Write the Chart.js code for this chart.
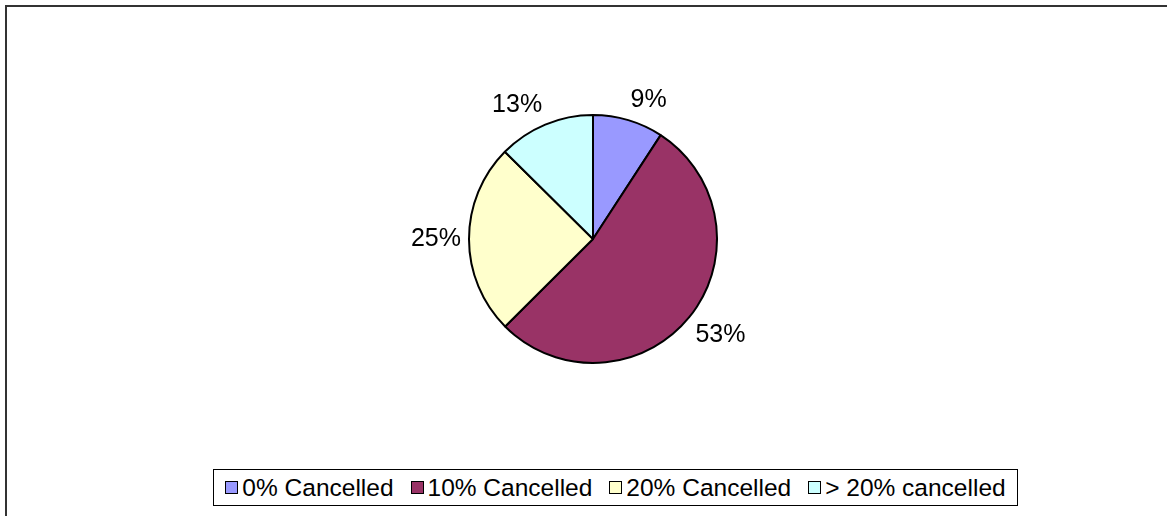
<!DOCTYPE html>
<html>
<head>
<meta charset="utf-8">
<script src="https://cdn.jsdelivr.net/npm/chart.js@4/dist/chart.umd.min.js"></script>
<style>
  body { margin: 0; background: #fff; overflow: hidden; }
  #wrap { position: relative; width: 1167px; height: 516px; }
  #frame {
    position: absolute; left: 5px; top: 5px; width: 1170px; height: 520px;
    border: 2px solid #333; box-sizing: border-box;
  }
  #pie { position: absolute; left: 0; top: 0; }
  #legend {
    position: absolute; left: 213px; top: 469px; width: 805px; height: 37px;
    border: 1px solid #000; box-sizing: border-box; background: #fff;
    display: flex; align-items: center; justify-content: center;
    font-family: "Liberation Sans", Arial, sans-serif; font-size: 24.5px; color: #000;
  }
  .item { display: flex; align-items: center; margin: 0 8.5px; white-space: nowrap; }
  .swatch { width: 11px; height: 11px; border: 1.5px solid #000; margin-right: 4px; }
</style>
</head>
<body>
<div id="wrap">
  <div id="frame"></div>
  <canvas id="pie" width="1167" height="516"></canvas>
  <div id="legend"></div>
</div>
<script>
const categories = ["0% Cancelled", "10% Cancelled", "20% Cancelled", "> 20% cancelled"];
const values = [9.2, 53.4, 24.9, 12.6];
const colors = ["#9999FF", "#993366", "#FFFFCC", "#CCFFFF"];

const total = values.reduce((a, b) => a + b, 0);

// outside percentage labels, anchored on the slice's middle angle
const pctLabels = {
  id: "pctLabels",
  afterDatasetsDraw(chart) {
    const ctx = chart.ctx;
    const meta = chart.getDatasetMeta(0);
    ctx.save();
    ctx.font = '25px "Liberation Sans", Arial, sans-serif';
    ctx.fillStyle = "#000";
    meta.data.forEach((arc, i) => {
      const { x, y, startAngle, endAngle, outerRadius } = arc.getProps(
        ["x", "y", "startAngle", "endAngle", "outerRadius"], true);
      const mid = (startAngle + endAngle) / 2;
      const r = outerRadius + 8;
      const px = x + Math.cos(mid) * r;
      const py = y + Math.sin(mid) * r;
      const c = Math.cos(mid), s = Math.sin(mid);
      ctx.textAlign = c > 0.15 ? "left" : c < -0.15 ? "right" : "center";
      ctx.textBaseline = s > 0.15 ? "top" : s < -0.15 ? "bottom" : "middle";
      const txt = Math.round(values[i] / total * 100) + "%";
      ctx.fillText(txt, px, py);
    });
    ctx.restore();
  }
};

new Chart(document.querySelector("#pie"), {
  type: "pie",
  data: {
    labels: categories,
    datasets: [{
      data: values,
      backgroundColor: colors,
      borderColor: "#000",
      borderWidth: 2,
      hoverOffset: 0,
    }],
  },
  options: {
    responsive: false,
    animation: false,
    radius: 124,
    layout: { padding: { left: 300, right: 281, top: 114, bottom: 152 } },
    plugins: {
      legend: { display: false },
      tooltip: { enabled: false },
    },
  },
  plugins: [pctLabels],
});

const legendBox = document.querySelector("#legend");
categories.forEach((name, i) => {
  const item = document.createElement("div");
  item.className = "item";
  const sw = document.createElement("span");
  sw.className = "swatch";
  sw.style.background = colors[i];
  const label = document.createElement("span");
  label.textContent = name;
  item.appendChild(sw);
  item.appendChild(label);
  legendBox.appendChild(item);
});
</script>
</body>
</html>
